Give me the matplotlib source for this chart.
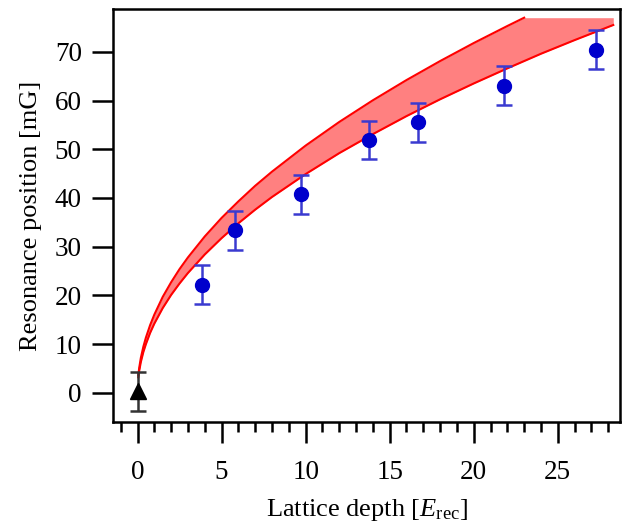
import numpy as np
import matplotlib.pyplot as plt
from matplotlib.ticker import MultipleLocator

plt.rcParams['font.family'] = 'Liberation Serif'
plt.rcParams['mathtext.fontset'] = 'custom'
plt.rcParams['mathtext.rm'] = 'Liberation Serif'
plt.rcParams['mathtext.it'] = 'Liberation Serif:italic'

# measured resonance positions
depth = [3.85, 5.8, 9.75, 13.75, 16.7, 21.8, 27.3]
res_pos = [22.2, 33.4, 40.8, 51.9, 55.5, 63.0, 70.4]
res_err = [4.0, 4.0, 4.0, 4.0, 4.0, 4.0, 4.0]

# free-space reference point
ref_depth = [0.0]
ref_pos = [0.3]
ref_err = [4.0]

# theory band (lower / upper edge)
band_x = [0.05, 0.1, 0.2, 0.35, 0.5, 0.75, 1, 1.5, 2, 2.5, 3, 4, 5, 6, 7, 8,
          10, 12, 14, 16, 18, 20, 22, 23, 24, 26, 28.3]
band_lo = [3.2, 4.5, 6.35, 8.4, 10.0, 12.3, 14.2, 17.4, 20.1, 22.45, 24.6, 28.4,
           31.75, 34.8, 37.6, 40.2, 44.9, 49.2, 53.1, 56.8, 60.25, 63.5, 66.6,
           68.1, 69.6, 72.4, 75.5]
band_hi = [3.6, 5.1, 7.2, 9.5, 11.35, 13.9, 16.05, 19.7, 22.7, 25.4, 27.8, 32.1,
           35.9, 39.3, 42.5, 45.4, 50.75, 55.6, 60.05, 64.2, 68.1, 71.8, 75.3,
           77.0, 77.0, 77.0, 77.0]
n_hi_line = 24  # upper edge line stops where the band gets flat

fig = plt.figure(figsize=(6.25, 5.25), dpi=100)
ax = fig.add_axes([0.181, 0.196, 0.811, 0.787])

ax.fill_between(band_x, band_lo, band_hi, color='#ff8080', lw=0)
ax.plot(band_x, band_lo, color='#ff0000', lw=1.5)
ax.plot(band_x[:n_hi_line], band_hi[:n_hi_line], color='#ff0000', lw=1.5)

ax.errorbar(depth, res_pos, yerr=res_err, fmt='o', color='#0000cc',
            ecolor='#3a3ad0', ms=10, elinewidth=1.8, capsize=5.5, capthick=1.8)
ax.errorbar(ref_depth, ref_pos, yerr=ref_err, fmt='^', color='black',
            ecolor='#333333', ms=11, elinewidth=1.8, capsize=5.5, capthick=1.8)

ax.set_xlim(-1.45, 28.7)
ax.set_ylim(-6, 78.8)
ax.xaxis.set_major_locator(MultipleLocator(5))
ax.xaxis.set_minor_locator(MultipleLocator(1))
ax.yaxis.set_major_locator(MultipleLocator(10))

for s in ax.spines.values():
    s.set_linewidth(1.8)
ax.tick_params(axis='both', which='major', direction='out', length=15, width=1.8,
               labelsize=19.5)
ax.tick_params(axis='x', which='major', pad=12)
ax.tick_params(axis='y', which='major', pad=7.5)
ax.tick_params(axis='x', which='minor', direction='out', length=7.5, width=1.8)

ax.set_xlabel('Lattice depth [$E_\\mathrm{rec}$]', fontsize=19, labelpad=9)
ax.set_ylabel('Resonance position [mG]', fontsize=19, labelpad=9)

fig.savefig('out.png', dpi=100)
